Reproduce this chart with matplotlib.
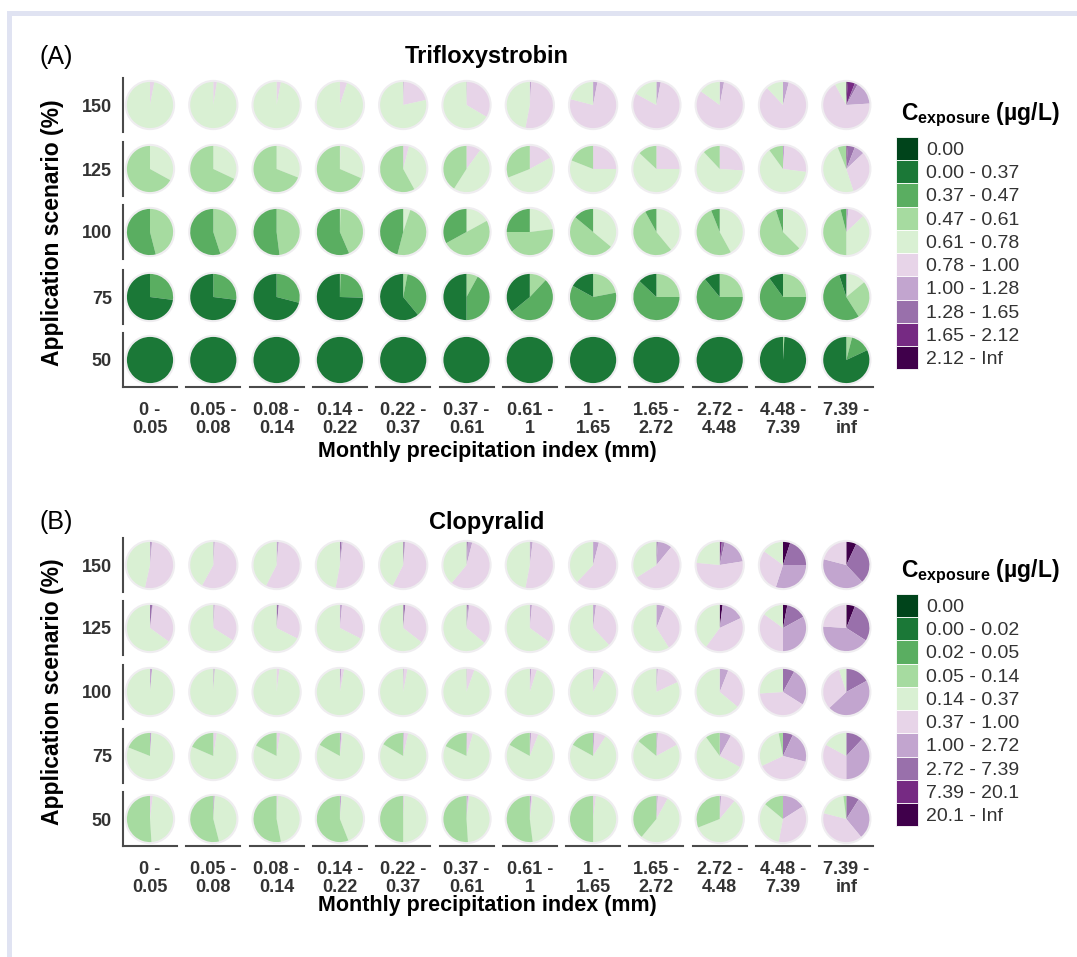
import matplotlib
matplotlib.use("Agg")
import matplotlib.pyplot as plt
from matplotlib.patches import Circle, Patch, Rectangle

plt.rcParams['font.family'] = ['Liberation Sans', 'DejaVu Sans']
plt.rcParams['mathtext.fontset'] = 'custom'
plt.rcParams['mathtext.rm'] = 'Liberation Sans'
plt.rcParams['mathtext.bf'] = 'Liberation Sans:bold'

precip_bins = ["0 -\n0.05", "0.05 -\n0.08", "0.08 -\n0.14", "0.14 -\n0.22",
               "0.22 -\n0.37", "0.37 -\n0.61", "0.61 -\n1", "1 -\n1.65",
               "1.65 -\n2.72", "2.72 -\n4.48", "4.48 -\n7.39", "7.39 -\ninf"]
scenarios = ["150", "125", "100", "75", "50"]

tri_classes = ["0.00", "0.00 - 0.37", "0.37 - 0.47", "0.47 - 0.61", "0.61 - 0.78",
               "0.78 - 1.00", "1.00 - 1.28", "1.28 - 1.65", "1.65 - 2.12", "2.12 - Inf"]
clo_classes = ["0.00", "0.00 - 0.02", "0.02 - 0.05", "0.05 - 0.14", "0.14 - 0.37",
               "0.37 - 1.00", "1.00 - 2.72", "2.72 - 7.39", "7.39 - 20.1", "20.1 - Inf"]
class_colors = ["#00441b", "#1b7837", "#5aae61", "#a6dba0", "#d9f0d3",
                "#e7d4e8", "#c2a5cf", "#9970ab", "#762a83", "#40004b"]

# share (%) of each exposure class (low -> high), one list per precipitation bin
tri_150 = [
    [0, 0, 0, 0, 97, 3, 0, 0, 0, 0],
    [0, 0, 0, 0, 97.5, 2.5, 0, 0, 0, 0],
    [0, 0, 0, 0, 97, 3, 0, 0, 0, 0],
    [0, 0, 0, 0, 95, 5, 0, 0, 0, 0],
    [0, 0, 0, 0, 78.5, 21, 0.5, 0, 0, 0],
    [0, 0, 0, 0, 66.5, 33, 0.5, 0, 0, 0],
    [0, 0, 0, 0, 47, 52, 1, 0, 0, 0],
    [0, 0, 0, 0, 21, 76, 3, 0, 0, 0],
    [0, 0, 0, 0, 17, 80, 3, 0, 0, 0],
    [0, 0, 0, 0, 15, 82, 3, 0, 0, 0],
    [0, 0, 0, 0, 12, 84, 4, 0, 0, 0],
    [0, 0, 0, 0, 8, 68, 16, 2, 5, 1],
]
tri_125 = [
    [0, 0, 0, 67, 33, 0, 0, 0, 0, 0],
    [0, 0, 0, 68, 32, 0, 0, 0, 0, 0],
    [0, 0, 0, 69, 31, 0, 0, 0, 0, 0],
    [0, 0, 0, 68.5, 31, 0.5, 0, 0, 0, 0],
    [0, 0, 0, 58, 38, 4, 0, 0, 0, 0],
    [0, 0, 0, 41, 49, 10, 0, 0, 0, 0],
    [0, 0, 0, 31, 52, 17, 0, 0, 0, 0],
    [0, 0, 0, 19, 56, 25, 0, 0, 0, 0],
    [0, 0, 0, 13, 62, 25, 0, 0, 0, 0],
    [0, 0, 0, 12, 62, 26, 0, 0, 0, 0],
    [0, 0, 0, 10, 63, 26, 1, 0, 0, 0],
    [0, 0, 0, 6, 49, 32, 7, 5, 1, 0],
]
tri_100 = [
    [0, 0, 54, 46, 0, 0, 0, 0, 0, 0],
    [0, 0, 55, 45, 0, 0, 0, 0, 0, 0],
    [0, 0, 52, 48, 0, 0, 0, 0, 0, 0],
    [0, 0, 56.5, 43, 0.5, 0, 0, 0, 0, 0],
    [0, 0, 46, 49, 5, 0, 0, 0, 0, 0],
    [0, 0, 33, 50, 17, 0, 0, 0, 0, 0],
    [0, 0, 25, 52, 23, 0, 0, 0, 0, 0],
    [0, 0, 14, 50, 36, 0, 0, 0, 0, 0],
    [0, 0, 8, 53, 39, 0, 0, 0, 0, 0],
    [0, 0, 6, 52, 42, 0, 0, 0, 0, 0],
    [0, 0, 5, 57.5, 37, 0.5, 0, 0, 0, 0],
    [0, 0, 4, 46, 37, 11.5, 1.5, 0, 0, 0],
]
tri_75 = [
    [0, 73, 27, 0, 0, 0, 0, 0, 0, 0],
    [0, 73, 27, 0, 0, 0, 0, 0, 0, 0],
    [0, 71, 29, 0, 0, 0, 0, 0, 0, 0],
    [0, 74.5, 25, 0.5, 0, 0, 0, 0, 0, 0],
    [0, 61, 36, 3, 0, 0, 0, 0, 0, 0],
    [0, 50, 42, 8, 0, 0, 0, 0, 0, 0],
    [0, 36, 52, 12, 0, 0, 0, 0, 0, 0],
    [0, 17, 61, 22, 0, 0, 0, 0, 0, 0],
    [0, 13, 62, 25, 0, 0, 0, 0, 0, 0],
    [0, 11, 64, 25, 0, 0, 0, 0, 0, 0],
    [0, 10, 65, 25, 0, 0, 0, 0, 0, 0],
    [0, 5, 54, 27, 13, 1, 0, 0, 0, 0],
]
tri_50 = [
    [0, 100, 0, 0, 0, 0, 0, 0, 0, 0],
    [0, 100, 0, 0, 0, 0, 0, 0, 0, 0],
    [0, 100, 0, 0, 0, 0, 0, 0, 0, 0],
    [0, 100, 0, 0, 0, 0, 0, 0, 0, 0],
    [0, 100, 0, 0, 0, 0, 0, 0, 0, 0],
    [0, 100, 0, 0, 0, 0, 0, 0, 0, 0],
    [0, 100, 0, 0, 0, 0, 0, 0, 0, 0],
    [0, 100, 0, 0, 0, 0, 0, 0, 0, 0],
    [0, 100, 0, 0, 0, 0, 0, 0, 0, 0],
    [0, 100, 0, 0, 0, 0, 0, 0, 0, 0],
    [0, 99, 0, 1, 0, 0, 0, 0, 0, 0],
    [0, 82, 14, 4, 0, 0, 0, 0, 0, 0],
]

clo_150 = [
    [0, 0, 0, 0, 46.5, 52, 1, 0.5, 0, 0],
    [0, 0, 0, 0, 42, 57, 1, 0, 0, 0],
    [0, 0, 0, 0, 42.5, 56, 1.5, 0, 0, 0],
    [0, 0, 0, 0, 47, 51, 1, 1, 0, 0],
    [0, 0, 0, 0, 42.5, 56, 0.5, 1, 0, 0],
    [0, 0, 0, 0, 39, 57, 3, 1, 0, 0],
    [0, 0, 0, 0, 47, 51, 1.5, 0.5, 0, 0],
    [0, 0, 0, 0, 38, 58, 4, 0, 0, 0],
    [0, 0, 0, 0, 34, 55, 10, 1, 0, 0],
    [0, 0, 0, 0, 23.5, 54, 19, 2, 1.5, 0],
    [0, 0, 0, 0, 15, 30, 30, 20, 0, 5],
    [0, 0, 0, 0, 0, 21, 41, 31, 0, 7],
]
clo_125 = [
    [0, 0, 0, 0, 65, 33, 0.5, 1.5, 0, 0],
    [0, 0, 0, 0, 66, 33, 1, 0, 0, 0],
    [0, 0, 0, 0, 67.5, 31, 0, 1.5, 0, 0],
    [0, 0, 0, 0, 67.5, 31, 1.5, 0, 0, 0],
    [0, 0, 0, 0, 64.5, 34, 0, 1.5, 0, 0],
    [0, 0, 0, 0, 64, 34, 1, 1, 0, 0],
    [0, 0, 0, 0, 65, 33.5, 1.5, 0, 0, 0],
    [0, 0, 0, 0, 62, 36, 2, 0, 0, 0],
    [0, 0, 0, 0, 59, 35, 6, 0, 0, 0],
    [0, 0, 0, 0, 40, 42, 16, 0, 0, 2],
    [0, 0, 0, 0, 15, 35, 33, 14, 0, 3],
    [0, 0, 0, 0, 0.5, 23.5, 42, 28, 0, 6],
]
clo_100 = [
    [0, 0, 0, 0, 98.5, 0, 1.5, 0, 0, 0],
    [0, 0, 0, 0, 99, 0, 1, 0, 0, 0],
    [0, 0, 0, 0, 98, 2, 0, 0, 0, 0],
    [0, 0, 0, 0, 97, 2, 1, 0, 0, 0],
    [0, 0, 0, 0, 97, 2.5, 0.5, 0, 0, 0],
    [0, 0, 0, 0, 94.5, 5, 0.5, 0, 0, 0],
    [0, 0, 0, 0, 95, 4, 1, 0, 0, 0],
    [0, 0, 0, 0, 92, 7, 1, 0, 0, 0],
    [0, 0, 0, 0, 82, 17, 1, 0, 0, 0],
    [0, 0, 0, 0, 64, 30, 6, 0, 0, 0],
    [0, 0, 0, 0, 26, 40, 26, 8, 0, 0],
    [0, 0, 0, 0, 5, 32, 46, 17, 0, 0],
]
clo_75 = [
    [0, 0, 0, 19, 80, 0, 1, 0, 0, 0],
    [0, 0, 0, 18.5, 79, 2.5, 0, 0, 0, 0],
    [0, 0, 0, 17.5, 80, 2.5, 0, 0, 0, 0],
    [0, 0, 0, 17, 81, 1, 1, 0, 0, 0],
    [0, 0, 0, 16.5, 80, 3, 0.5, 0, 0, 0],
    [0, 0, 0, 18, 77.5, 4, 0.5, 0, 0, 0],
    [0, 0, 0, 17, 77, 5, 1, 0, 0, 0],
    [0, 0, 0, 17, 74, 8, 1, 0, 0, 0],
    [0, 0, 0, 14, 69, 16, 1, 0, 0, 0],
    [0, 0, 0, 10, 57, 25, 8, 0, 0, 0],
    [0, 0, 0, 3, 29, 39, 22, 7, 0, 0],
    [0, 0, 0, 0, 17, 33, 38, 12, 0, 0],
]
clo_50 = [
    [0, 0, 0, 51, 47, 2, 0, 0, 0, 0],
    [0, 0, 0, 54, 45, 0, 1, 0, 0, 0],
    [0, 0, 0, 53, 46, 1, 0, 0, 0, 0],
    [0, 0, 0, 56, 43, 0, 1, 0, 0, 0],
    [0, 0, 0, 50, 49, 1, 0, 0, 0, 0],
    [0, 0, 0, 51, 47, 1, 1, 0, 0, 0],
    [0, 0, 0, 52, 46, 1, 1, 0, 0, 0],
    [0, 0, 0, 50, 48, 2, 0, 0, 0, 0],
    [0, 0, 0, 39, 53, 7, 1, 0, 0, 0],
    [0, 0, 0, 31, 58, 10, 1, 0, 0, 0],
    [0, 0, 0, 14, 33, 37, 16, 0, 0, 0],
    [0, 0, 0, 2, 19, 40, 30, 9, 0, 0],
]

W, H = 1077, 957
fig = plt.figure(figsize=(W / 100, H / 100), dpi=100)


def fx(px):
    return px / W


def fy(py):
    return 1 - py / H


# light frame of the screenshot (top and left edge)
fig.patches.append(Rectangle((fx(7), fy(16)), 1 - fx(7), 5 / H, transform=fig.transFigure,
                             color="#e0e3f2", lw=0))
fig.patches.append(Rectangle((fx(7), 0), 5 / W, fy(11), transform=fig.transFigure,
                             color="#e0e3f2", lw=0))

col_x = [150 + 63.3 * i for i in range(12)]
axis_col = "#4a4a4a"
tick_col = "#333333"


def draw_panel(rows, classes, row_y, tag, title, tag_y, xlab_y, leg_y):
    half = 27
    n_rows = len(rows)
    for r, row in enumerate(rows):
        for c, shares in enumerate(row):
            cx, cy = col_x[c], row_y[r]
            ax = fig.add_axes([fx(cx - half), fy(cy + half), 2 * half / W, 2 * half / H])
            ax.add_patch(Circle((0, 0), 1.09, color="#efedf0", lw=0, zorder=0))
            # highest class first, clockwise from 12 o'clock
            vals = [v for v in shares[::-1]]
            cols = class_colors[::-1]
            ax.pie(vals, colors=cols, startangle=90, counterclock=False, radius=1,
                   wedgeprops=dict(linewidth=0))
            ax.set_xlim(-1.17, 1.17)
            ax.set_ylim(-1.17, 1.17)
            ax.set_aspect("equal")
            ax.set_frame_on(True)
            for s in ax.spines.values():
                s.set_visible(False)
            ax.set_xticks([])
            ax.set_yticks([])
            if c == 0:
                ax.spines["left"].set_visible(True)
                ax.spines["left"].set_color(axis_col)
                ax.spines["left"].set_linewidth(1.5)
                ax.set_yticks([0])
                ax.set_yticklabels([scenarios[r]], fontsize=13, fontweight="bold", color=tick_col)
                ax.tick_params(axis="y", length=0, pad=8)
            if r == n_rows - 1:
                ax.spines["bottom"].set_visible(True)
                ax.spines["bottom"].set_color(axis_col)
                ax.spines["bottom"].set_linewidth(1.5)
                ax.set_xticks([0])
                ax.set_xticklabels([precip_bins[c]], fontsize=13, fontweight="bold", color=tick_col)
                ax.tick_params(axis="x", length=0, pad=11)
                for t in ax.get_xticklabels():
                    t.set_linespacing(1.05)

    mid_y = (row_y[0] + row_y[-1]) / 2
    fig.text(fx(40), fy(tag_y), tag, fontsize=18, ha="left", va="center")
    fig.text(fx(487), fy(tag_y), title, fontsize=17, fontweight="bold", ha="center", va="center")
    fig.text(fx(53), fy(mid_y), "Application scenario (%)", fontsize=16.5, fontweight="bold",
             rotation=90, ha="center", va="center")
    fig.text(fx(487), fy(xlab_y), "Monthly precipitation index (mm)", fontsize=15.5,
             fontweight="bold", ha="center", va="center")

    fig.text(fx(901), fy(leg_y), r"$\mathbf{C}_{\mathbf{exposure}}$ (µg/L)", fontsize=16.5,
             fontweight="bold", ha="left", va="center")
    handles = [Patch(facecolor=col, edgecolor="white", linewidth=0.6) for col in class_colors]
    fig.legend(handles=handles, labels=classes, loc="upper left",
               bbox_to_anchor=(fx(896), fy(leg_y + 22)), bbox_transform=fig.transFigure,
               frameon=False, fontsize=14, labelcolor=tick_col,
               handlelength=1.15, handleheight=1.46,
               labelspacing=0.0, handletextpad=0.4, borderpad=0, borderaxespad=0)


draw_panel([tri_150, tri_125, tri_100, tri_75, tri_50], tri_classes,
           [105, 169, 232, 297, 360], "(A)", "Trifloxystrobin", 57, 452, 115)
draw_panel([clo_150, clo_125, clo_100, clo_75, clo_50], clo_classes,
           [565, 628, 692, 756, 819], "(B)", "Clopyralid", 522, 906, 572)

fig.savefig("out.png", dpi=100, facecolor="white")
